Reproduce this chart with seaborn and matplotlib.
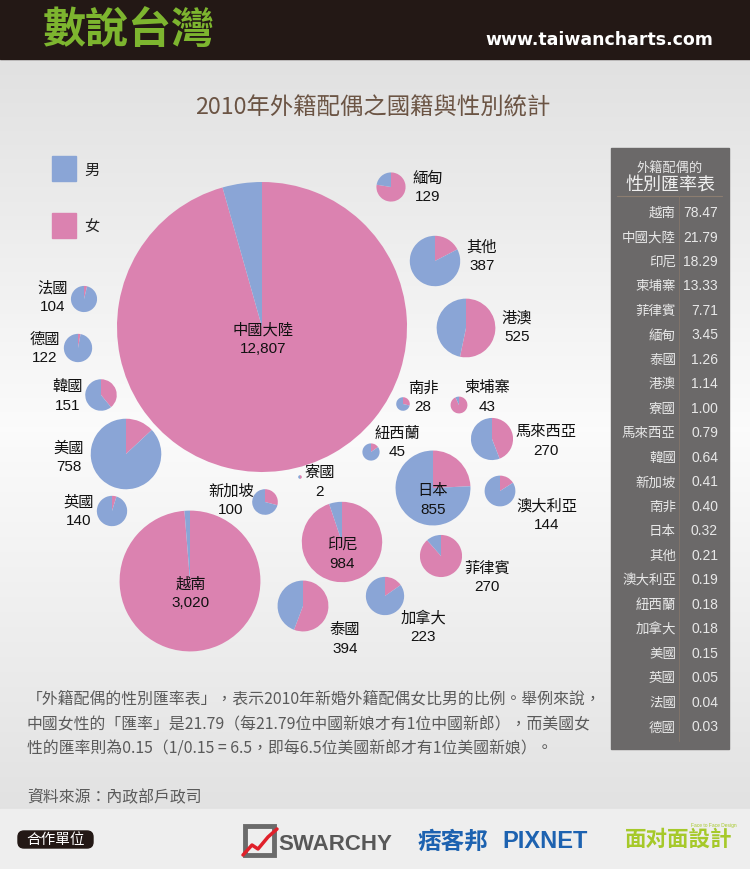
import numpy as np
import matplotlib
matplotlib.use('Agg')
import matplotlib.pyplot as plt
from matplotlib.patches import Rectangle, FancyBboxPatch
import seaborn as sns

# 外籍配偶的性別匯率表 (女 / 男), sorted as in the side table
names = ['越南', '中國大陸', '印尼', '柬埔寨', '菲律賓', '緬甸', '泰國', '港澳', '寮國', '馬來西亞',
         '韓國', '新加坡', '南非', '日本', '其他', '澳大利亞', '紐西蘭', '加拿大', '美國', '英國', '法國', '德國']
ratios = [78.47, 21.79, 18.29, 13.33, 7.71, 3.45, 1.26, 1.14, 1.00, 0.79,
          0.64, 0.41, 0.40, 0.32, 0.21, 0.19, 0.18, 0.18, 0.15, 0.05, 0.04, 0.03]
# 2010 新婚外籍配偶人數
totals = [3020, 12807, 984, 43, 270, 129, 394, 525, 2, 270,
          151, 100, 28, 855, 387, 144, 45, 223, 758, 140, 104, 122]

gender_labels = ['男', '女']

# bubble layout (pixels): pie centre and label centre
pie_pos = {'越南': (190, 582), '中國大陸': (262, 328), '印尼': (342, 543), '柬埔寨': (459, 406),
           '菲律賓': (441, 557), '緬甸': (391, 188), '泰國': (303, 607), '港澳': (466, 329),
           '寮國': (300, 478), '馬來西亞': (492, 440), '韓國': (101, 396), '新加坡': (265, 503),
           '南非': (403, 405), '日本': (433, 489), '其他': (435, 262), '澳大利亞': (500, 492),
           '紐西蘭': (371, 453), '加拿大': (385, 597), '美國': (126, 455), '英國': (112, 512),
           '法國': (84, 300), '德國': (78, 349)}
label_pos = {'越南': (191, 584), '中國大陸': (263, 330), '印尼': (342, 545), '柬埔寨': (487, 388),
             '菲律賓': (487, 568), '緬甸': (428, 178), '泰國': (345, 630), '港澳': (517, 318),
             '寮國': (320, 473), '馬來西亞': (546, 432), '韓國': (68, 387), '新加坡': (231, 491),
             '南非': (423, 388), '日本': (433, 491), '其他': (482, 247), '澳大利亞': (547, 506),
             '紐西蘭': (397, 433), '加拿大': (423, 618), '美國': (69, 448), '英國': (79, 502),
             '法國': (53, 288), '德國': (45, 339)}

W, H = 750, 870
male_c, female_c = sns.color_palette(['#8aa5d6', '#db82b0'])

sns.set_theme(style='white')
plt.rcParams['font.family'] = ['Liberation Sans', 'Noto Sans CJK TC', 'DejaVu Sans']
cjk = ['Noto Sans CJK TC', 'DejaVu Sans']

fig = plt.figure(figsize=(W / 100, H / 100), dpi=100)
ax = fig.add_axes([0, 0, 1, 1])

# background: soft gray gradient, dark header band, light footer
ys = np.arange(60, 811)
shade = np.interp(ys, [60, 430, 810], [0.882, 0.985, 0.886])
grad = np.repeat(shade[:, None, None], 3, axis=2)
ax.imshow(grad, extent=(0, W, 810, 60), aspect='auto', zorder=0)
ax.add_patch(Rectangle((0, 0), W, 60, color='#231815', zorder=1))
ax.add_patch(Rectangle((0, 810), W, 60, color='#eeeeee', zorder=1))

ax.text(42, 31, '數說台灣', fontsize=31, color='#7db52f', weight='bold', family=cjk,
        ha='left', va='center', zorder=3)
ax.text(713, 40, 'www.taiwancharts.com', fontsize=12.5, color='white', weight='bold',
        family=['DejaVu Sans'], ha='right', va='center', zorder=3)

ax.text(373, 108, '2010年外籍配偶之國籍與性別統計', fontsize=16.8, color='#6b5444', family=cjk,
        ha='center', va='center', zorder=3)

# legend
for (lab, col, y0) in [(gender_labels[0], male_c, 157), (gender_labels[1], female_c, 214)]:
    ax.add_patch(Rectangle((52, y0), 24, 25, color=col, zorder=3))
    ax.text(92, y0 + 13, lab, fontsize=11, family=cjk, color='#222222', ha='center', va='center', zorder=3)

# bubble pies: radius ~ sqrt(total), female wedge first, clockwise from 12 o'clock
k = 145 / np.sqrt(12807)
for name, r, tot in zip(names, ratios, totals):
    cx, cy = pie_pos[name]
    rad = k * np.sqrt(tot)
    female = r / (1 + r)
    ax.pie([female, 1 - female], colors=[female_c, male_c], center=(cx, cy), radius=rad,
           startangle=-90, counterclock=True, frame=True,
           wedgeprops=dict(linewidth=0, zorder=4))
    lx, ly = label_pos[name]
    ax.text(lx, ly, name, fontsize=11, family=cjk, color='#111111', ha='center', va='center', zorder=6)
    ax.text(lx, ly + 19, f'{tot:,}', fontsize=11, color='#111111', ha='center', va='center', zorder=6)

# ratio table panel
ax.add_patch(Rectangle((611, 149), 118, 601, color='#6b6969', zorder=2))
ax.text(670, 168, '外籍配偶的', fontsize=9.5, family=cjk, color='#e6e6e6', ha='center', va='center', zorder=3)
ax.text(670, 186, '性別匯率表', fontsize=13, family=cjk, color='#f0f0f0', ha='center', va='center', zorder=3)
ax.plot([617, 722], [197, 197], color='#8c7d70', lw=0.8, zorder=3)
ax.plot([679, 679], [197, 742], color='#84766b', lw=0.6, zorder=3)
for i, (name, r) in enumerate(zip(names, ratios)):
    y = 213 + i * 24.5
    ax.text(676, y, name, fontsize=9.7, family=cjk, color='#e8e8e8', ha='right', va='center', zorder=3)
    ax.text(718, y, f'{r:.2f}', fontsize=10, color='#e8e8e8', ha='right', va='center', zorder=3)

# note and source
note = ['「外籍配偶的性別匯率表」，表示2010年新婚外籍配偶女比男的比例。舉例來說，',
        '中國女性的「匯率」是21.79（每21.79位中國新娘才有1位中國新郎），而美國女',
        '性的匯率則為0.15（1/0.15 = 6.5，即每6.5位美國新郎才有1位美國新娘）。']
for i, line in enumerate(note):
    ax.text(27, 699 + i * 24.5, line, fontsize=11.4, family=cjk, color='#5a5a5a',
            ha='left', va='center', zorder=3)
ax.text(27, 797, '資料來源：內政部戶政司', fontsize=11.4, family=cjk, color='#5a5a5a',
        ha='left', va='center', zorder=3)

# footer
ax.add_patch(FancyBboxPatch((18, 832), 75, 17, boxstyle='round,pad=0,rounding_size=6',
                            color='#231815', zorder=3))
ax.text(55.5, 840.5, '合作單位', fontsize=10.5, family=cjk, color='white', ha='center', va='center', zorder=4)

ax.add_patch(Rectangle((245, 827), 29, 29, fill=False, ec='#6a6a6a', lw=3.5, zorder=3))
ax.plot([243, 252, 258, 268, 277], [856, 846, 850, 838, 830], color='#e0202a', lw=2.5, zorder=4)
ax.text(278, 845, 'SWARCHY', fontsize=16, weight='bold', color='#585858',
        family=['Liberation Sans Narrow', 'Liberation Sans'], ha='left', va='center', zorder=3)

ax.text(418, 842, '痞客邦', fontsize=17, weight='bold', color='#1d62b0', family=cjk,
        ha='left', va='center', zorder=3)
ax.text(502, 842, 'PIXNET', fontsize=17, weight='bold', color='#1d62b0',
        family=['Liberation Sans Narrow', 'Liberation Sans'], ha='left', va='center', zorder=3)

ax.text(625, 839, '面对面設計', fontsize=15.5, weight='bold', color='#a6c92a', family=cjk,
        ha='left', va='center', zorder=3)
ax.text(737, 826, 'Face to Face Design', fontsize=3.5, color='#a6c92a', ha='right', va='center', zorder=3)

ax.set_xlim(0, W)
ax.set_ylim(H, 0)
ax.set_aspect('auto')
ax.axis('off')

fig.savefig('out.png', dpi=100)
